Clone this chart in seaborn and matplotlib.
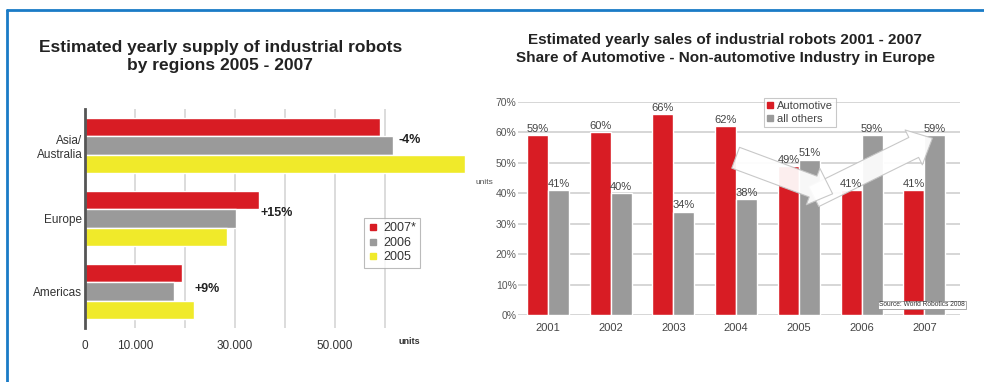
import matplotlib
matplotlib.use("Agg")
import matplotlib.pyplot as plt
from matplotlib.lines import Line2D
import seaborn as sns
import pandas as pd

sns.set_style("white")
plt.rcParams["font.family"] = ["Liberation Sans", "DejaVu Sans"]

# ---- left panel: supply by region ----
regions = ["Asia/\nAustralia", "Europe", "Americas"]
supply_years = ["2007*", "2006", "2005"]
supply_2007 = [59000, 34800, 19500]
supply_2006 = [61700, 30300, 17900]
supply_2005 = [76000, 28500, 21900]
change_labels = ["-4%", "+15%", "+9%"]
supply_ticks = [0, 10000, 20000, 30000, 40000, 50000, 60000]
supply_tick_labels = ["0", "10.000", "", "30.000", "", "50.000", ""]

# ---- right panel: automotive share in Europe ----
sales_years = ["2001", "2002", "2003", "2004", "2005", "2006", "2007"]
automotive = [59, 60, 66, 62, 49, 41, 41]
all_others = [41, 40, 34, 38, 51, 59, 59]
share_ticks = [0, 10, 20, 30, 40, 50, 60, 70]

RED = "#d81c24"
GRAY = "#9a9a9a"
YELLOW = "#f0ea2a"
TXT = "#333333"

supply_df = pd.DataFrame({
    "region": regions * 3,
    "year": [y for y in supply_years for _ in regions],
    "units": supply_2007 + supply_2006 + supply_2005,
})
share_df = pd.DataFrame({
    "year": sales_years * 2,
    "sector": ["Automotive"] * len(sales_years) + ["all others"] * len(sales_years),
    "share": automotive + all_others,
})

fig = plt.figure(figsize=(9.84, 3.82), dpi=100)
fig.patch.set_facecolor("white")

# ---------- left chart ----------
ax1 = fig.add_axes([0.0864, 0.1414, 0.391, 0.5735])
sns.barplot(data=supply_df, y="region", x="units", hue="year",
            hue_order=supply_years, palette=[RED, GRAY, YELLOW],
            orient="h", width=0.75, saturation=1, ax=ax1, legend=False)
ax1.set_xlim(0, 77000)
ax1.set_ylim(2.5, -0.5)
ax1.set_xticks(supply_ticks)
ax1.set_xticklabels(supply_tick_labels, fontsize=8.5, color=TXT)
ax1.set_xlabel("")
ax1.set_ylabel("")
ax1.tick_params(axis="x", length=0, pad=9)
ax1.tick_params(axis="y", length=0, pad=2, labelsize=8.5, labelcolor=TXT)
ax1.grid(axis="x", color="#d6d6d6", lw=1.2)
ax1.set_axisbelow(True)
for s in ["top", "right", "bottom"]:
    ax1.spines[s].set_visible(False)
ax1.spines["left"].set_color("#555555")
ax1.spines["left"].set_linewidth(2)
ax1.text(65000, 2.63, "units", fontsize=6.5, fontweight="bold", color=TXT,
         ha="center", va="top")

# growth labels next to the 2007 bars
label_x = [62700, 35200, 21900]
label_dy = [-0.08, -0.08, -0.03]
for i, (lx, dy, txt) in enumerate(zip(label_x, label_dy, change_labels)):
    ax1.text(lx, i + dy, txt, fontsize=9, fontweight="bold", color="#222222",
             ha="left", va="center")

h1 = [Line2D([], [], marker="s", ls="", color=c, markersize=5)
      for c in [RED, GRAY, YELLOW]]
leg1 = ax1.legend(h1, supply_years, loc="upper left",
                  bbox_to_anchor=(0.708, 0.53), fontsize=9,
                  frameon=True, fancybox=False, handlelength=0.8,
                  handletextpad=0.4, borderpad=0.35, labelspacing=0.2)
leg1.get_frame().set_edgecolor("#aaaaaa")
leg1.get_frame().set_linewidth(0.8)
for t in leg1.get_texts():
    t.set_color(TXT)

fig.text(0.224, 0.852, "Estimated yearly supply of industrial robots\nby regions 2005 - 2007",
         ha="center", va="center", fontsize=12.5, fontweight="bold",
         color="#222222", linespacing=1.3)

# ---------- right chart ----------
ax2 = fig.add_axes([0.5264, 0.1754, 0.4492, 0.5576])
sns.barplot(data=share_df, x="year", y="share", hue="sector",
            hue_order=["Automotive", "all others"], palette=[RED, GRAY],
            width=0.67, saturation=1, ax=ax2, legend=False)
ax2.set_xlim(-0.48, 6.57)
ax2.set_ylim(0, 70)
ax2.set_yticks(share_ticks)
ax2.set_yticklabels([f"{v}%" for v in share_ticks], fontsize=7.5, color="#555555")
ax2.set_xlabel("")
ax2.set_ylabel("")
ax2.tick_params(axis="x", length=0, pad=6, labelsize=8, labelcolor="#444444")
ax2.tick_params(axis="y", length=0, pad=1)
ax2.grid(axis="y", color="#cfcfcf", lw=1.2)
ax2.set_axisbelow(True)
sns.despine(ax=ax2, left=True, bottom=True)

for cont, vals in zip(ax2.containers, [automotive, all_others]):
    labels = ax2.bar_label(cont, labels=[f"{v}%" for v in vals], fontsize=8,
                           color="#444444", padding=1)
    for lab in labels:
        lab.set_zorder(8)

# trend arrows
arrow_style = "simple,tail_width=1.6,head_width=2.8,head_length=1.5"
ax2.annotate("", xy=(6.17, 58.5), xytext=(4.2, 38.5),
             arrowprops=dict(arrowstyle=arrow_style, fc="white", ec="#c4c4c4",
                             lw=0.8, mutation_scale=10, alpha=0.93),
             zorder=5)
ax2.annotate("", xy=(4.58, 39.5), xytext=(2.95, 52.0),
             arrowprops=dict(arrowstyle=arrow_style, fc="white", ec="#c4c4c4",
                             lw=0.8, mutation_scale=10, alpha=0.93),
             zorder=6)

ax2.text(1.011, 0.047, "Source: World Robotics 2008", transform=ax2.transAxes,
         fontsize=4.8, color="#333333", ha="right", va="center",
         bbox=dict(fc="white", ec="#888888", lw=0.5, pad=0.6), zorder=7)

ax2.text(-0.075, 0.62, "units", transform=ax2.transAxes, fontsize=6,
         color="#555555", ha="center", va="center")

h2 = [Line2D([], [], marker="s", ls="", color=c, markersize=4.5)
      for c in [RED, GRAY]]
leg2 = ax2.legend(h2, ["Automotive", "all others"], loc="upper left",
                  bbox_to_anchor=(0.543, 1.045), fontsize=8,
                  frameon=True, fancybox=False, handlelength=0.6,
                  handletextpad=0.3, borderpad=0.3, labelspacing=0.25)
leg2.get_frame().set_edgecolor("#bbbbbb")
leg2.get_frame().set_linewidth(0.8)
for t in leg2.get_texts():
    t.set_color("#444444")

fig.text(0.737, 0.872, "Estimated yearly sales of industrial robots 2001 - 2007\n"
         "Share of Automotive - Non-automotive Industry in Europe",
         ha="center", va="center", fontsize=11, fontweight="bold",
         color="#222222", linespacing=1.35)

# blue frame along the top and left edges
fig.add_artist(Line2D([0.0071, 1.0], [0.974, 0.974], color="#1a7bc6",
                      lw=2, transform=fig.transFigure))
fig.add_artist(Line2D([0.0071, 0.0071], [0.0, 0.974], color="#1a7bc6",
                      lw=2, transform=fig.transFigure))

fig.savefig("out.png", dpi=100, facecolor="white")
